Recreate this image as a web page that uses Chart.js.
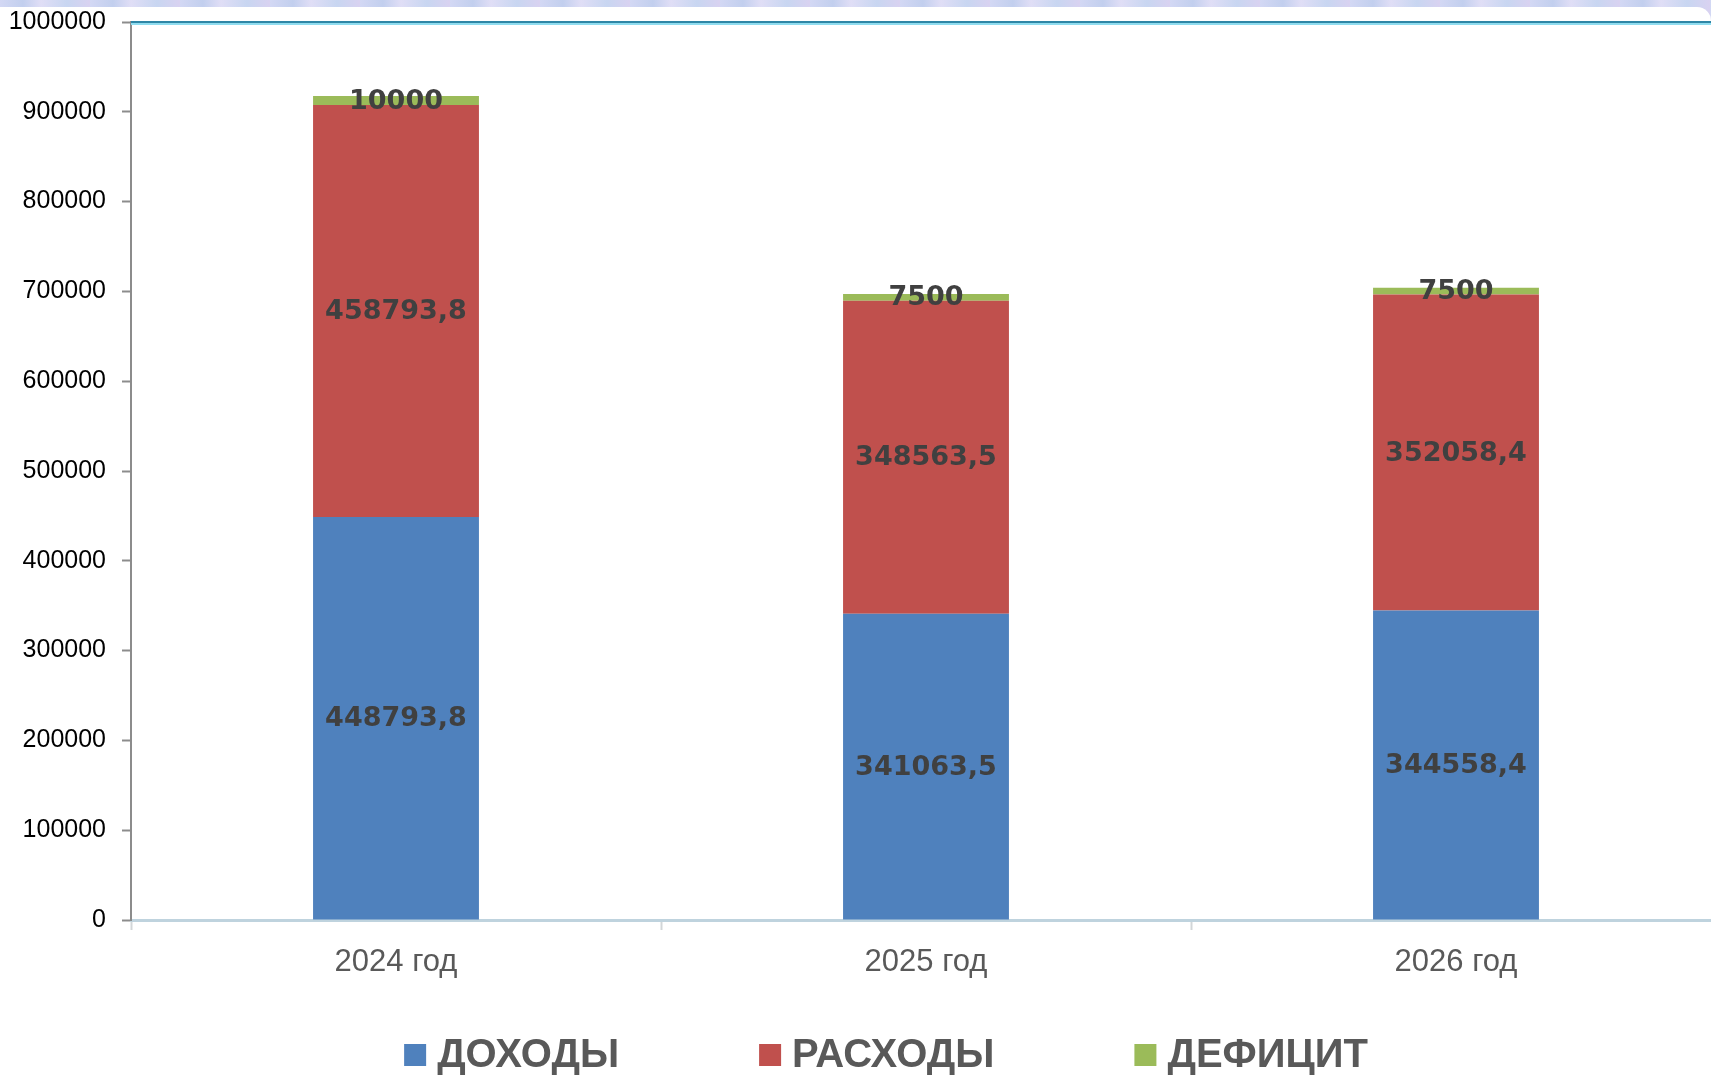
<!DOCTYPE html>
<html>
<head>
<meta charset="utf-8">
<script src="https://cdn.jsdelivr.net/npm/chart.js@4.4.1/dist/chart.umd.min.js"></script>
<style>
  html, body { margin: 0; padding: 0; width: 1711px; height: 1080px; overflow: hidden; }
  body { background: repeating-linear-gradient(90deg, #d3d8f4 0px, #c2cfee 23px, #e0def6 41px, #c8d6f1 67px, #d9d2f1 90px); }
  #sheet { position: absolute; left: 0; top: 7px; width: 1711px; height: 1073px; background: #fff; border-top-right-radius: 14px; }
  #wrap { position: absolute; left: 0; top: 0; width: 1772px; height: 1080px; }
</style>
</head>
<body>
<div id="sheet"></div>
<div id="wrap"><canvas id="chart"></canvas></div>
<script>
const years = ['2024 год', '2025 год', '2026 год'];
const income = [448793.8, 341063.5, 344558.4];
const expenses = [458793.8, 348563.5, 352058.4];
const deficit = [10000, 7500, 7500];
const seriesNames = ['ДОХОДЫ', 'РАСХОДЫ', 'ДЕФИЦИТ'];
const seriesColors = ['#4F81BD', '#C0504D', '#9BBB59'];
const yTicks = [0, 100000, 200000, 300000, 400000, 500000, 600000, 700000, 800000, 900000, 1000000];

function fmt(v) {
    return String(v).replace('.', ',');
}

// values written in the middle of every segment
const segmentLabels = {
    id: 'segmentLabels',
    afterDatasetsDraw(chart) {
        const ctx = chart.ctx;
        ctx.save();
        ctx.font = 'bold 27px "DejaVu Sans"';
        ctx.fillStyle = '#404040';
        ctx.textAlign = 'center';
        ctx.textBaseline = 'middle';
        chart.data.datasets.forEach((ds, i) => {
            chart.getDatasetMeta(i).data.forEach((bar, j) => {
                ctx.fillText(fmt(ds.data[j]), bar.x, (bar.y + bar.base) / 2 + 1);
            });
        });
        ctx.restore();
    }
};

// teal frame line on top of the plot
const topLine = {
    id: 'topLine',
    beforeDatasetsDraw(chart) {
        const ctx = chart.ctx;
        const y = chart.scales.y.getPixelForValue(yTicks[yTicks.length - 1]);
        const a = chart.chartArea;
        ctx.save();
        ctx.fillStyle = '#2f86a6';
        ctx.fillRect(a.left, y - 1, chart.width - a.left, 2);
        ctx.fillStyle = '#8fdcef';
        ctx.fillRect(a.left, y + 1, chart.width - a.left, 2);
        ctx.restore();
    }
};

// legend drawn by hand so the wide gaps fit
const bottomLegend = {
    id: 'bottomLegend',
    afterDraw(chart) {
        const ctx = chart.ctx;
        ctx.save();
        ctx.font = 'bold 40px "Liberation Sans"';
        const box = 22, gapText = 11, gapItem = 140;
        const widths = seriesNames.map(n => box + gapText + ctx.measureText(n).width);
        const total = widths.reduce((s, w) => s + w, 0) + gapItem * (widths.length - 1);
        let x = 886 - total / 2;
        const y = 1055;
        ctx.textBaseline = 'middle';
        seriesNames.forEach((n, i) => {
            ctx.fillStyle = seriesColors[i];
            ctx.fillRect(x, y - box / 2, box, box);
            ctx.fillStyle = '#595959';
            ctx.fillText(n, x + box + gapText, y + 1);
            x += widths[i] + gapItem;
        });
        ctx.restore();
    }
};

new Chart(document.getElementById('chart'), {
    type: 'bar',
    data: {
        labels: years,
        datasets: [
            { label: seriesNames[0], data: income, backgroundColor: seriesColors[0] },
            { label: seriesNames[1], data: expenses, backgroundColor: seriesColors[1] },
            { label: seriesNames[2], data: deficit, backgroundColor: seriesColors[2] }
        ]
    },
    options: {
        responsive: true,
        maintainAspectRatio: false,
        animation: false,
        devicePixelRatio: 1,
        layout: { padding: { left: 0, right: 51, top: 22, bottom: 0 } },
        datasets: { bar: { categoryPercentage: 1, barPercentage: 0.313 } },
        plugins: { legend: { display: false }, tooltip: { enabled: false } },
        scales: {
            x: {
                stacked: true,
                afterFit(scale) { scale.height = 160; },
                border: { color: '#bfd3de', width: 3 },
                grid: { drawOnChartArea: false, tickLength: 10, tickColor: '#d2d6d8', tickWidth: 2 },
                ticks: { color: '#595959', padding: 14, font: { family: 'Liberation Sans', size: 31 } }
            },
            y: {
                stacked: true,
                min: 0,
                max: 1000000,
                afterFit(scale) {
                    scale.width = 131;
                    scale.paddingTop = 0;
                    scale.paddingBottom = 0;
                },
                afterBuildTicks(scale) { scale.ticks = yTicks.map(v => ({ value: v })); },
                border: { color: '#8c8c8c', width: 2 },
                grid: { drawOnChartArea: false, tickLength: 9, tickColor: '#8c8c8c', tickWidth: 2 },
                ticks: {
                    color: '#000', padding: 16, font: { family: 'Liberation Sans', size: 25, lineHeight: 0.8 },
                    callback: v => String(v)
                }
            }
        }
    },
    plugins: [topLine, segmentLabels, bottomLegend]
});
</script>
</body>
</html>
